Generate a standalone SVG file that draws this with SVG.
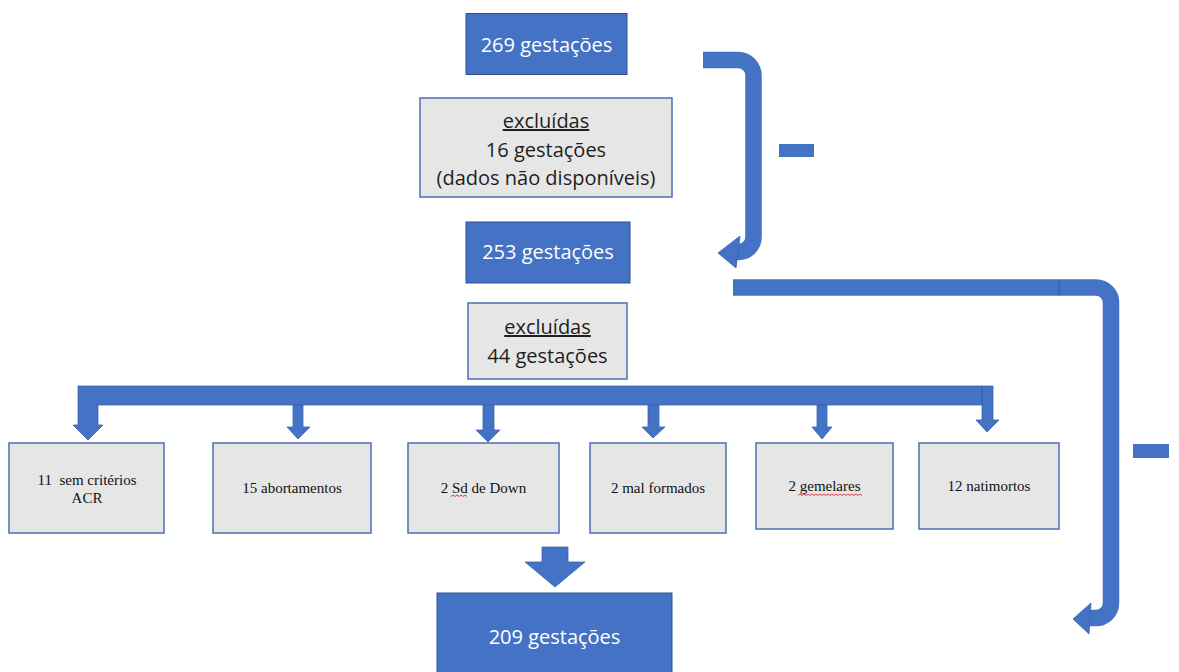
<svg xmlns="http://www.w3.org/2000/svg" width="1179" height="672" viewBox="0 0 1179 672">
  <style>
    .blue{fill:#4472C4;stroke:#2F528F;stroke-width:1}
    .gray{fill:#E7E6E6;stroke:#4A6FB5;stroke-width:1.5}
    .arr{fill:#4472C4;stroke:#3A64AE;stroke-width:0.8}
    .band{fill:none;stroke:#4472C4;stroke-width:16.5;stroke-linecap:butt}
    .wt{font-family:"Open Sans","Noto Sans",sans-serif;font-size:20px;fill:#FFFFFF;text-anchor:middle}
    .bt{font-family:"Open Sans","Noto Sans",sans-serif;font-size:20px;fill:#1E1E1E;text-anchor:middle}
    .st{font-family:"Liberation Serif","Times New Roman",serif;font-size:15px;fill:#111111;text-anchor:middle;white-space:pre}
    .sq{fill:none;stroke:#E03030;stroke-width:0.9}
  </style>
  <rect width="1179" height="672" fill="#FFFFFF"/>

  <g id="connectors">
    <!-- top bent arrow 269 -> 253 -->
    <path class="band" d="M703,60 H738 A15.5,15.5 0 0 1 753.5,75.5 V237 A15,15 0 0 1 738.5,252 H736"/>
    <polygon class="arr" points="740,236 718,253 736,268"/>
    <rect x="779" y="144" width="35" height="13" fill="#4472C4"/>
    <!-- big right bent arrow 253 -> 209 -->
    <path class="band" d="M733,287.5 H1096 A15,15 0 0 1 1111,302.5 V603 A15,15 0 0 1 1096,618 H1089"/>
    <line x1="1059" y1="279.5" x2="1059" y2="295.5" stroke="#2F528F" stroke-width="1" opacity="0.7"/>
    <polygon class="arr" points="1091,603 1073,619 1089,634"/>
    <rect x="1133" y="444" width="36" height="14" fill="#4472C4"/>
    <!-- branching bar -->
    <polygon class="arr" points="78,386 993,386 993,420 999,420 987,432 976,420 982,420 982,405 98,405 98,425 103,425 88,440 73,425 78,425"/>
    <line x1="982" y1="386.5" x2="982" y2="404.5" stroke="#2F528F" stroke-width="1" opacity="0.7"/>
    <polygon class="arr" points="293,405 303,405 303,427 310,427 298,439 287,427 293,427"/>
    <polygon class="arr" points="483,405 494,405 494,430 500,430 488,442 476,430 483,430"/>
    <polygon class="arr" points="648,405 659,405 659,427 665,427 653,438 642,427 648,427"/>
    <polygon class="arr" points="817,405 827,405 827,427 832,427 822,439 812,427 817,427"/>
    <!-- arrow to 209 -->
    <polygon class="arr" points="542,547 568,547 568,562 585,562 555,587 525,562 542,562"/>
  </g>

  <g id="n269">
    <rect class="blue" x="466" y="13.5" width="161" height="61"/>
    <text class="wt" x="546.5" y="52">269 gestações</text>
  </g>

  <g id="excl16">
    <rect class="gray" x="420" y="98" width="252" height="99"/>
    <text class="bt" x="546" y="128" text-decoration="underline">excluídas</text>
    <text class="bt" x="546" y="157">16 gestações</text>
    <text class="bt" x="546" y="185">(dados não disponíveis)</text>
  </g>

  <g id="n253">
    <rect class="blue" x="466" y="222" width="164" height="61"/>
    <text class="wt" x="548" y="259">253 gestações</text>
  </g>

  <g id="excl44">
    <rect class="gray" x="468" y="303" width="159" height="76"/>
    <text class="bt" x="547.5" y="334" text-decoration="underline">excluídas</text>
    <text class="bt" x="547.5" y="363">44 gestações</text>
  </g>

  <g id="b11">
    <rect class="gray" x="9" y="443" width="155" height="90"/>
    <text class="st" x="87" y="485">11  sem critérios</text>
    <text class="st" x="87" y="503">ACR</text>
  </g>

  <g id="b15">
    <rect class="gray" x="213" y="443" width="158" height="90"/>
    <text class="st" x="292" y="493">15 abortamentos</text>
  </g>

  <g id="bsd">
    <rect class="gray" x="408" y="443" width="151" height="90"/>
    <text class="st" x="483.5" y="493">2 Sd de Down</text>
    <path class="sq" d="M451,496.5 l2,-1.5 l2,1.5 l2,-1.5 l2,1.5 l2,-1.5 l2,1.5 l2,-1.5 l2,1.5"/>
  </g>

  <g id="bmal">
    <rect class="gray" x="590" y="443" width="136" height="90"/>
    <text class="st" x="658" y="493">2 mal formados</text>
  </g>

  <g id="bgem">
    <rect class="gray" x="756" y="443" width="137" height="86"/>
    <text class="st" x="824.5" y="491">2 gemelares</text>
    <path class="sq" d="M798,495.5 l2,-1.5 l2,1.5 l2,-1.5 l2,1.5 l2,-1.5 l2,1.5 l2,-1.5 l2,1.5 l2,-1.5 l2,1.5 l2,-1.5 l2,1.5 l2,-1.5 l2,1.5 l2,-1.5 l2,1.5 l2,-1.5 l2,1.5 l2,-1.5 l2,1.5 l2,-1.5 l2,1.5 l2,-1.5 l2,1.5 l2,-1.5 l2,1.5 l2,-1.5 l2,1.5 l2,-1.5 l2,1.5 l2,-1.5 l2,1.5"/>
  </g>

  <g id="bnat">
    <rect class="gray" x="919" y="443" width="140" height="86"/>
    <text class="st" x="989" y="491">12 natimortos</text>
  </g>

  <g id="n209">
    <rect class="blue" x="437" y="593" width="235" height="90"/>
    <text class="wt" x="554.5" y="644">209 gestações</text>
  </g>
</svg>
